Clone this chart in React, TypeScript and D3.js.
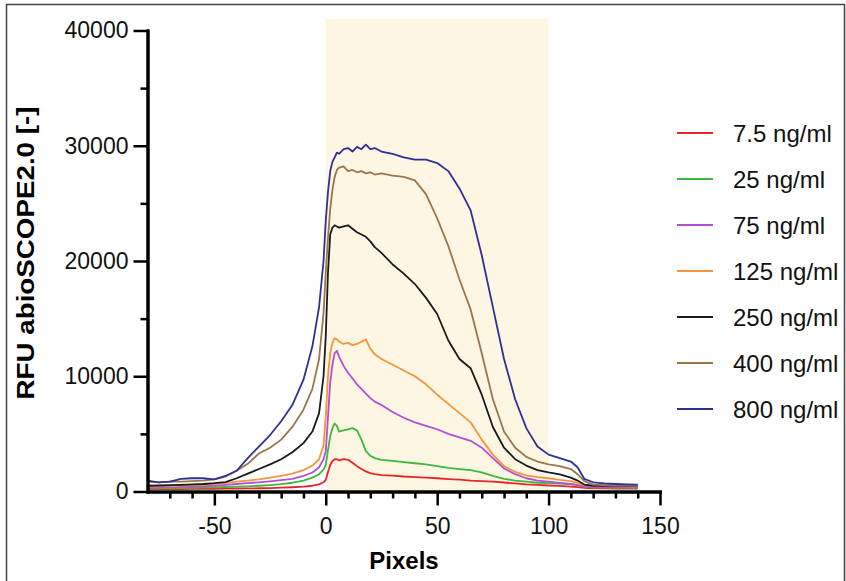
import React, { useEffect, useRef } from "react";
import * as d3 from "d3";

// x positions (pixels) shared by every series
const pixels = [
  -80, -75, -70, -65, -60, -55, -50, -45, -40, -35, -30, -25, -20, -15, -10,
  -6, -3, -1, 0, 1, 2, 3, 4, 5, 6, 8, 10, 12, 14, 16, 18, 20, 22, 25, 30, 35,
  40, 45, 50, 55, 60, 65, 70, 75, 80, 85, 90, 95, 100, 105, 110, 113, 116, 120,
  125, 130, 135, 140,
];

const rfu7_5 = [
  190, 200, 200, 210, 220, 230, 240, 250, 260, 270, 280, 300, 330, 370, 420,
  500, 620, 800, 1000, 1700, 2300, 2650, 2800, 2800, 2700, 2800, 2750, 2500,
  2200, 1950, 1750, 1600, 1500, 1420, 1380, 1300, 1250, 1200, 1150, 1080, 1030,
  950, 900, 850, 780, 700, 620, 570, 520, 480, 420, 380, 320, 280, 270, 260,
  260, 260,
];

const rfu25 = [
  260, 270, 280, 300, 320, 340, 360, 390, 420, 450, 500, 560, 640, 760, 950,
  1200, 1500, 1900, 2300, 3600, 4800, 5500, 5900, 5700, 5200, 5300, 5400, 5500,
  5300, 4500, 3500, 3100, 2900, 2750, 2650, 2550, 2450, 2350, 2200, 2050, 1950,
  1850, 1650, 1350, 1100, 950, 850, 760, 720, 680, 640, 550, 420, 340, 330, 320,
  320, 320,
];

const rfu75 = [
  320, 340, 360, 400, 430, 460, 500, 570, 650, 730, 800, 880, 980, 1100, 1350,
  1650, 2100, 2800, 3500, 6500, 9500, 11000, 12000, 12200, 11700, 10900, 10300,
  9800, 9300, 8900, 8500, 8100, 7800, 7500, 6900, 6400, 6000, 5700, 5400, 5000,
  4700, 4400, 3800, 2900, 2000, 1500, 1150, 950, 850, 750, 650, 550, 420, 380,
  360, 350, 350, 350,
];

const rfu125 = [
  420, 450, 480, 520, 560, 600, 650, 750, 850, 950, 1050, 1200, 1350, 1550,
  1850, 2250, 2800, 4000, 6500, 10000, 12000, 12900, 13300, 13200, 13000, 12800,
  12900, 12700, 12800, 13000, 13200, 12400, 11900, 11500, 11000, 10500, 10000,
  9300, 8400, 7600, 6800, 6000, 4500, 3200, 2200, 1700, 1400, 1250, 1150, 1000,
  900, 750, 550, 480, 470, 460, 450, 450,
];

const rfu250 = [
  500, 520, 550, 580, 620, 650, 720, 820, 1150, 1550, 1950, 2350, 2800, 3400,
  4200, 5200, 6800, 10000, 13500, 19000, 22300, 22900, 23100, 23000, 22900,
  23000, 23100, 22800, 22500, 22300, 22100, 21700, 21200, 20700, 19700, 18900,
  18000, 16800, 15400, 13100, 11500, 10700, 8400, 5600, 3800, 2800, 2250, 1850,
  1650, 1480, 1200, 950, 600, 500, 500, 500, 500, 500,
];

const rfu400 = [
  850, 800, 850, 850, 900, 950, 1050, 1300, 1800, 2400, 3300, 3800, 4500, 5600,
  7100, 8900, 11500, 15500, 19000, 22000, 24500, 26200, 27300, 27900, 28100,
  28200, 27800, 27900, 27700, 27800, 27600, 27700, 27500, 27600, 27400, 27300,
  27000, 25800, 23700, 21300, 18400, 15800, 12000, 8000, 5200, 3800, 3000, 2600,
  2350, 2200, 1950, 1500, 900, 600, 550, 520, 510, 500,
];

const rfu800 = [
  950, 800, 850, 1100, 1150, 1150, 1050, 1350, 1800, 2900, 3900, 4900, 6100,
  7500, 9700, 12600, 16000, 20000, 23500, 26000, 27800, 28600, 29000, 29400,
  29300, 29700, 29800, 29500, 29900, 29700, 30100, 29700, 29800, 29500, 29300,
  29000, 28800, 28800, 28500, 27800, 26300, 24400, 20500, 16000, 11500, 8000,
  5500, 3900, 3200, 2900, 2600, 2100, 1100, 800, 700, 650, 620, 600,
];

const seriesNames = [
  "7.5 ng/ml",
  "25 ng/ml",
  "75 ng/ml",
  "125 ng/ml",
  "250 ng/ml",
  "400 ng/ml",
  "800 ng/ml",
];
const seriesValues = [rfu7_5, rfu25, rfu75, rfu125, rfu250, rfu400, rfu800];
const seriesColors = [
  "#e8262a",
  "#3cb93c",
  "#b24fd6",
  "#f7933a",
  "#1a1a1a",
  "#9b7648",
  "#2e3192",
];

const xMajorTicks = [-50, 0, 50, 100, 150];
const xMinorTicks = [-70, -60, -40, -30, -20, -10, 10, 20, 30, 40, 60, 70, 80, 90, 110, 120, 130, 140];
const yMajorTicks = [0, 10000, 20000, 30000, 40000];
const yMinorTicks = [5000, 15000, 25000, 35000];
const highlight = [0, 100];

const FONT = "'Liberation Sans', Arial, Helvetica, sans-serif";

const App = () => {
  const svgRef = useRef<SVGSVGElement>(null);

  useEffect(() => {
    const svg = d3.select(svgRef.current);
    svg.selectAll("*").remove();

    const x = d3.scaleLinear().domain([-80, 150]).range([147.5, 660]);
    const y = d3.scaleLinear().domain([0, 40000]).range([491.5, 30.5]);

    // outer frame
    svg
      .append("rect")
      .attr("x", 6.5)
      .attr("y", 4.5)
      .attr("width", 838)
      .attr("height", 600)
      .attr("fill", "none")
      .attr("stroke", "#444")
      .attr("stroke-width", 1.5);

    // shaded region
    svg
      .append("rect")
      .attr("x", x(highlight[0]))
      .attr("y", 19)
      .attr("width", x(highlight[1]) - x(highlight[0]))
      .attr("height", y(0) - 19)
      .attr("fill", "#fdf6e3");

    // lines
    const line = d3
      .line<number>()
      .x((d, i) => x(pixels[i]))
      .y((d) => y(d));

    seriesValues.forEach((vals, k) => {
      svg
        .append("path")
        .datum(vals)
        .attr("fill", "none")
        .attr("stroke", seriesColors[k])
        .attr("stroke-width", 1.8)
        .attr("stroke-linejoin", "round")
        .attr("d", line);
    });

    const styleAxis = (g: any) => {
      g.select(".domain").attr("stroke", "#000").attr("stroke-width", 3).attr("stroke-linecap", "square");
      g.selectAll(".tick line").attr("stroke", "#000").attr("stroke-width", 2.5);
      g.selectAll("text").attr("font-size", 23).attr("font-family", FONT).attr("fill", "#111");
    };

    // y axis
    svg
      .append("g")
      .attr("transform", `translate(${x(-80)},0)`)
      .call(d3.axisLeft(y).tickValues(yMinorTicks).tickSize(7).tickSizeOuter(0).tickFormat(() => ""))
      .call(styleAxis);
    svg
      .append("g")
      .attr("transform", `translate(${x(-80)},0)`)
      .call(d3.axisLeft(y).tickValues(yMajorTicks).tickSize(14).tickSizeOuter(0).tickPadding(5).tickFormat((d) => String(d)))
      .call(styleAxis);

    // x axis
    svg
      .append("g")
      .attr("transform", `translate(0,${y(0)})`)
      .call(d3.axisBottom(x).tickValues(xMinorTicks).tickSize(7).tickSizeOuter(0).tickFormat(() => ""))
      .call(styleAxis);
    svg
      .append("g")
      .attr("transform", `translate(0,${y(0)})`)
      .call(d3.axisBottom(x).tickValues(xMajorTicks).tickSize(14).tickSizeOuter(0).tickPadding(12).tickFormat((d) => String(d)))
      .call(styleAxis);

    // axis titles
    svg
      .append("text")
      .attr("transform", "translate(34,253) rotate(-90)")
      .attr("text-anchor", "middle")
      .attr("font-family", FONT)
      .attr("font-weight", "bold")
      .attr("font-size", 23)
      .attr("textLength", 293)
      .attr("lengthAdjust", "spacingAndGlyphs")
      .text("RFU abioSCOPE2.0 [-]");

    svg
      .append("text")
      .attr("x", 404)
      .attr("y", 569)
      .attr("text-anchor", "middle")
      .attr("font-family", FONT)
      .attr("font-weight", "bold")
      .attr("font-size", 24)
      .text("Pixels");

    // legend
    const legend = svg.append("g");
    seriesNames.forEach((name, k) => {
      const ly = 133 + k * 46;
      legend
        .append("line")
        .attr("x1", 677)
        .attr("x2", 713)
        .attr("y1", ly)
        .attr("y2", ly)
        .attr("stroke", seriesColors[k])
        .attr("stroke-width", 2);
      legend
        .append("text")
        .attr("x", 733)
        .attr("y", ly)
        .attr("dy", "0.36em")
        .attr("font-family", FONT)
        .attr("font-size", 24)
        .attr("fill", "#111")
        .text(name);
    });
  }, []);

  return (
    <div style={{ position: "absolute", left: 0, top: 0 }}>
      <svg ref={svgRef} width={846} height={581}></svg>
    </div>
  );
};

export default App;
